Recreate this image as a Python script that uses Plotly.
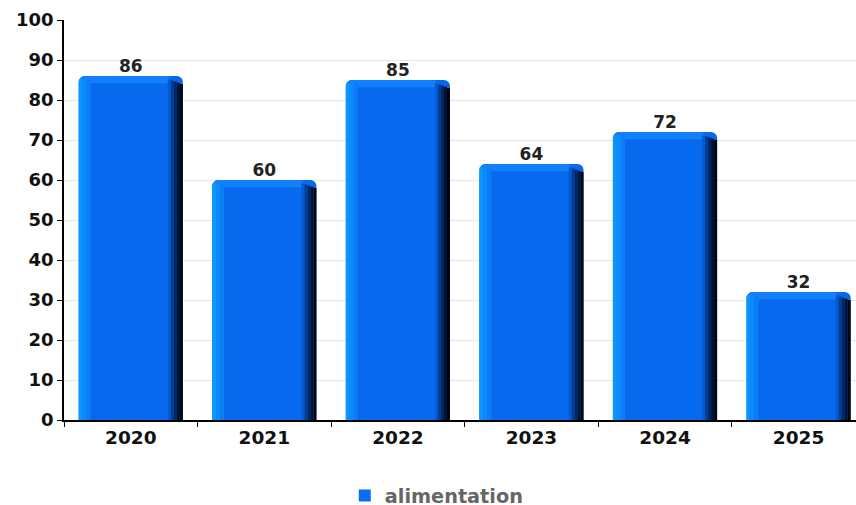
import plotly.graph_objects as go

categories = ["2020", "2021", "2022", "2023", "2024", "2025"]
values = [86, 60, 85, 64, 72, 32]
series_name = "alimentation"
y_ticks = list(range(0, 101, 10))

MAIN = "rgb(7,106,238)"
FONT = "DejaVu Sans"

fig = go.Figure()

BW = 0.78  # full bar width in category units
half = BW / 2

# main face
fig.add_trace(go.Bar(x=categories, y=values, width=BW, marker=dict(color=MAIN, line=dict(width=0), cornerradius=6),
                     showlegend=False, hoverinfo="skip"))
# top bevel (lighter)
fig.add_trace(go.Bar(x=categories, y=[1.8] * len(values), base=[v - 1.8 for v in values], width=BW - 0.12,
                     offset=-half + 0.02, marker=dict(color="rgb(18,128,252)", line=dict(width=0), cornerradius=4),
                     showlegend=False, hoverinfo="skip"))
# left light strips
left_cols = ["rgb(10,150,255)", "rgb(14,138,253)", "rgb(12,124,248)"]
sw = 0.03
for i, c in enumerate(left_cols):
    fig.add_trace(go.Bar(x=categories, y=[v - 0.7 for v in values], width=sw, offset=-half + i * sw,
                         marker=dict(color=c, line=dict(width=0), cornerradius=2), showlegend=False, hoverinfo="skip"))
# right dark strips
right_cols = ["rgb(5,90,210)", "rgb(3,62,150)", "rgb(2,38,95)", "rgb(1,18,50)", "rgb(0,6,18)"]
rw = 0.0225
for i, c in enumerate(right_cols):
    fig.add_trace(go.Bar(x=categories, y=[v - 0.8 - i * 0.3 for v in values], width=rw,
                         offset=half - (len(right_cols) - i) * rw,
                         marker=dict(color=c, line=dict(width=0)), showlegend=False, hoverinfo="skip"))

# value labels
fig.add_trace(go.Scatter(x=categories, y=values, mode="text", text=[str(v) for v in values],
                         textposition="top center", textfont=dict(family=FONT, size=17, color="#222", weight="bold"),
                         showlegend=False, hoverinfo="skip", cliponaxis=False))
# legend entry
fig.add_trace(go.Scatter(x=[None], y=[None], mode="markers", name=series_name,
                         marker=dict(symbol="square", size=12, color="rgb(10,110,245)")))

fig.update_layout(
    width=856, height=505,
    margin=dict(l=64, r=0, t=20, b=85),
    barmode="overlay",
    plot_bgcolor="white", paper_bgcolor="white",
    font=dict(family=FONT, color="#111"),
    legend=dict(orientation="h", x=0.3545, xanchor="left", yref="container", y=0.018, yanchor="middle",
                font=dict(family=FONT, size=19.3, color="#666", weight="bold"), itemwidth=30,
                entrywidth=200, entrywidthmode="pixels"),
)
fig.update_xaxes(type="category", range=[-0.5, 5.43], showline=True, linecolor="black", linewidth=1.5,
                 ticks="outside", tickson="boundaries", ticklen=5, tickcolor="black", showgrid=False,
                 automargin=False, tickfont=dict(family=FONT, size=18.5, color="#111", weight="bold"))
fig.update_yaxes(range=[0, 100], tickvals=y_ticks, showline=True, linecolor="black", linewidth=1.5,
                 ticks="outside", ticklen=5, tickcolor="black", gridcolor="#e6e6e6", zeroline=False,
                 automargin=False, tickfont=dict(family=FONT, size=18, color="#111", weight="bold"))

fig.write_html("out.html", config={"displayModeBar": False},
               post_script="document.body.style.margin='0';")
